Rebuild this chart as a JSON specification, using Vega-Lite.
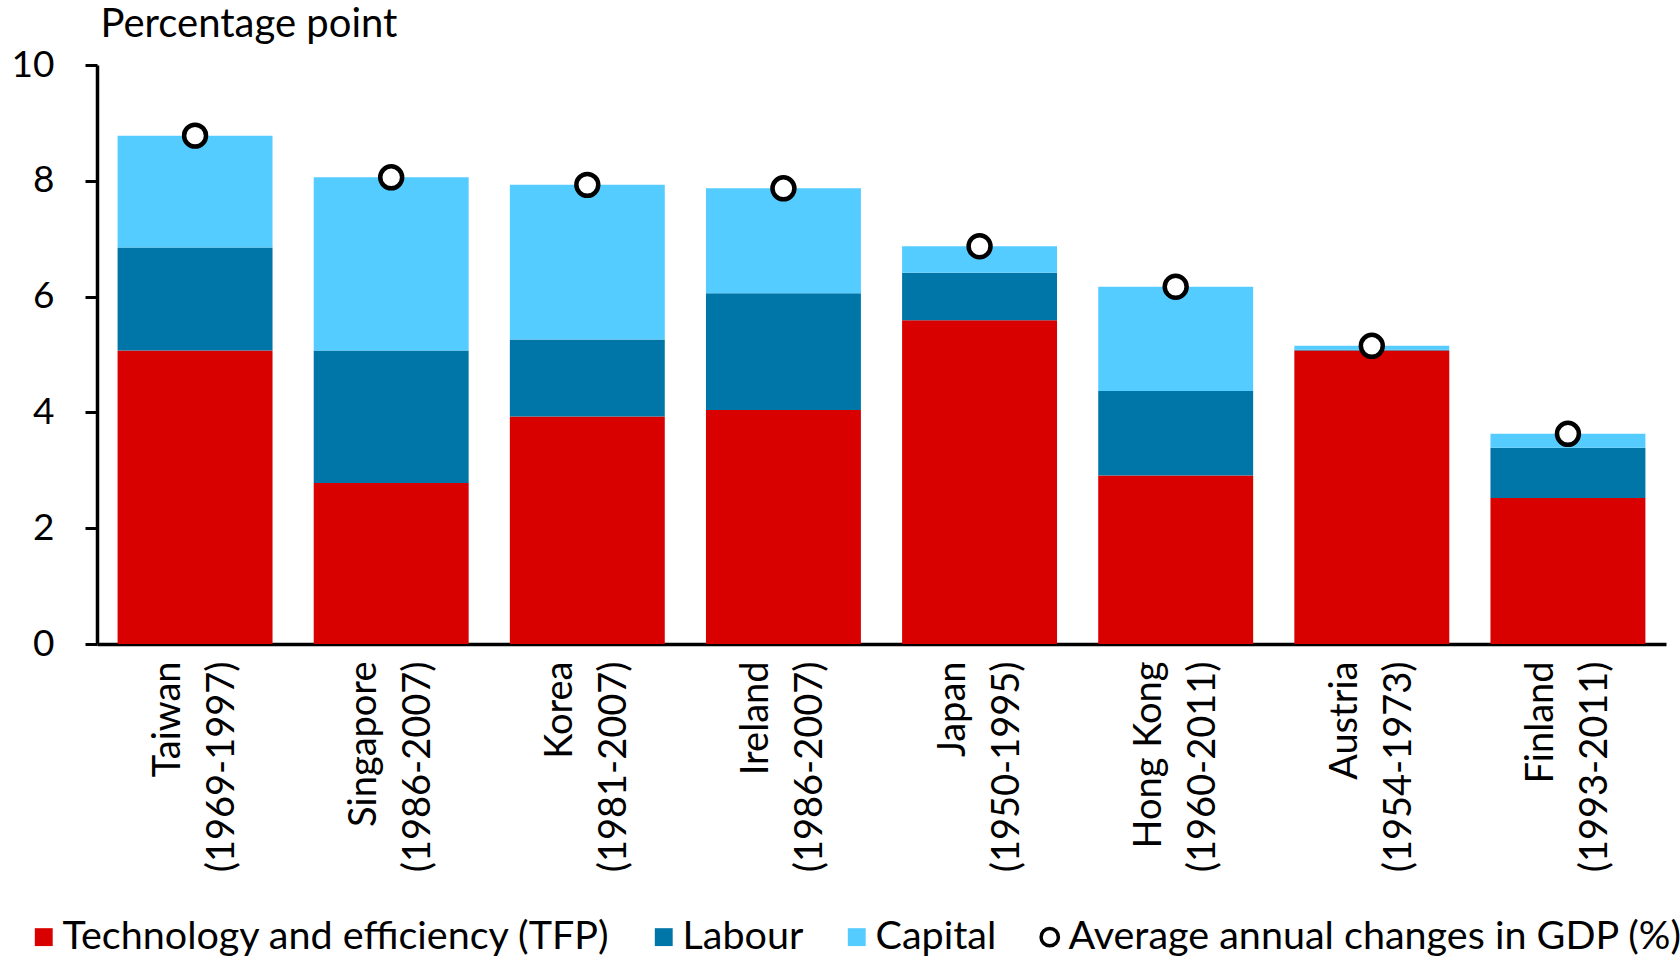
{
  "$schema": "https://vega.github.io/schema/vega-lite/v6.json",
  "width": 1569,
  "height": 579,
  "autosize": {"type": "none"},
  "padding": {"left": 97, "top": 65, "right": 14, "bottom": 315},
  "config": {"font": "Lato", "view": {"stroke": null}, "background": "white"},
  "datasets": {
    "parts": [
      {"country": "Taiwan|(1969-1997)", "series": "Technology and efficiency (TFP)", "ord": 1, "value": 5.07},
      {"country": "Taiwan|(1969-1997)", "series": "Labour", "ord": 2, "value": 1.78},
      {"country": "Taiwan|(1969-1997)", "series": "Capital", "ord": 3, "value": 1.93},
      {"country": "Singapore|(1986-2007)", "series": "Technology and efficiency (TFP)", "ord": 1, "value": 2.78},
      {"country": "Singapore|(1986-2007)", "series": "Labour", "ord": 2, "value": 2.29},
      {"country": "Singapore|(1986-2007)", "series": "Capital", "ord": 3, "value": 2.99},
      {"country": "Korea|(1981-2007)", "series": "Technology and efficiency (TFP)", "ord": 1, "value": 3.93},
      {"country": "Korea|(1981-2007)", "series": "Labour", "ord": 2, "value": 1.33},
      {"country": "Korea|(1981-2007)", "series": "Capital", "ord": 3, "value": 2.67},
      {"country": "Ireland|(1986-2007)", "series": "Technology and efficiency (TFP)", "ord": 1, "value": 4.04},
      {"country": "Ireland|(1986-2007)", "series": "Labour", "ord": 2, "value": 2.02},
      {"country": "Ireland|(1986-2007)", "series": "Capital", "ord": 3, "value": 1.81},
      {"country": "Japan|(1950-1995)", "series": "Technology and efficiency (TFP)", "ord": 1, "value": 5.59},
      {"country": "Japan|(1950-1995)", "series": "Labour", "ord": 2, "value": 0.82},
      {"country": "Japan|(1950-1995)", "series": "Capital", "ord": 3, "value": 0.46},
      {"country": "Hong Kong|(1960-2011)", "series": "Technology and efficiency (TFP)", "ord": 1, "value": 2.91},
      {"country": "Hong Kong|(1960-2011)", "series": "Labour", "ord": 2, "value": 1.46},
      {"country": "Hong Kong|(1960-2011)", "series": "Capital", "ord": 3, "value": 1.80},
      {"country": "Austria|(1954-1973)", "series": "Technology and efficiency (TFP)", "ord": 1, "value": 5.07},
      {"country": "Austria|(1954-1973)", "series": "Labour", "ord": 2, "value": 0.01},
      {"country": "Austria|(1954-1973)", "series": "Capital", "ord": 3, "value": 0.07},
      {"country": "Finland|(1993-2011)", "series": "Technology and efficiency (TFP)", "ord": 1, "value": 2.52},
      {"country": "Finland|(1993-2011)", "series": "Labour", "ord": 2, "value": 0.87},
      {"country": "Finland|(1993-2011)", "series": "Capital", "ord": 3, "value": 0.24}
    ],
    "gdp": [
      {"country": "Taiwan|(1969-1997)", "series": "Average annual changes in GDP (%)", "gdp": 8.78},
      {"country": "Singapore|(1986-2007)", "series": "Average annual changes in GDP (%)", "gdp": 8.06},
      {"country": "Korea|(1981-2007)", "series": "Average annual changes in GDP (%)", "gdp": 7.93},
      {"country": "Ireland|(1986-2007)", "series": "Average annual changes in GDP (%)", "gdp": 7.87},
      {"country": "Japan|(1950-1995)", "series": "Average annual changes in GDP (%)", "gdp": 6.87},
      {"country": "Hong Kong|(1960-2011)", "series": "Average annual changes in GDP (%)", "gdp": 6.17},
      {"country": "Austria|(1954-1973)", "series": "Average annual changes in GDP (%)", "gdp": 5.15},
      {"country": "Finland|(1993-2011)", "series": "Average annual changes in GDP (%)", "gdp": 3.63}
    ]
  },
  "layer": [
    {
      "data": {"name": "parts"},
      "mark": {"type": "bar"},
      "encoding": {
        "x": {
          "field": "country", "type": "nominal", "sort": null,
          "scale": {"paddingInner": 0.21, "paddingOuter": 0.105},
          "axis": {
            "title": null,
            "labelExpr": "split(datum.label, '|')",
            "labelAngle": -90,
            "labelAlign": "right",
            "labelBaseline": "middle",
            "labelFontSize": 38,
            "labelLineHeight": 54,
            "labelOffset": -26,
            "labelColor": "black",
            "labelPadding": 17,
            "ticks": false,
            "domainColor": "black",
            "domainWidth": 3.5,
            "labelLimit": 0
          }
        },
        "y": {
          "field": "value", "type": "quantitative", "stack": "zero",
          "scale": {"domain": [0, 10], "nice": false},
          "axis": {
            "title": "Percentage point",
            "titleAngle": 0,
            "titleAlign": "left",
            "titleBaseline": "middle",
            "titleX": 3,
            "titleY": -41,
            "titleFontSize": 40,
            "titleFontWeight": "normal",
            "titleColor": "black",
            "values": [0, 2, 4, 6, 8, 10],
            "format": "d",
            "labelFontSize": 37,
            "labelColor": "black",
            "labelPadding": 31,
            "tickSize": 12,
            "tickWidth": 3,
            "tickColor": "black",
            "domainColor": "black",
            "domainWidth": 3.5,
            "grid": false
          }
        },
        "color": {
          "field": "series", "type": "nominal",
          "scale": {
            "domain": ["Technology and efficiency (TFP)", "Labour", "Capital", "Average annual changes in GDP (%)"],
            "range": ["#D90000", "#0076A8", "#55CCFF", "white"]
          },
          "legend": {
            "title": null,
            "orient": "none",
            "direction": "horizontal",
            "columns": 4,
            "legendX": -73,
            "legendY": 852,
            "labelFontSize": 39.5,
            "labelColor": "black",
            "labelLimit": 0,
            "labelOffset": -1,
            "columnPadding": 33,
            "symbolSize": 300,
            "symbolType": "square",
            "encode": {
              "symbols": {
                "update": {
                  "shape": {"signal": "datum.value === 'Average annual changes in GDP (%)' ? 'circle' : 'square'"},
                  "stroke": {"signal": "datum.value === 'Average annual changes in GDP (%)' ? 'black' : null"},
                  "strokeWidth": {"signal": "datum.value === 'Average annual changes in GDP (%)' ? 3.5 : 0"},
                  "size": {"signal": "datum.value === 'Average annual changes in GDP (%)' ? 300 : 320"},
                  "opacity": {"value": 1}
                }
              }
            }
          }
        },
        "order": {"field": "ord", "type": "quantitative"}
      }
    },
    {
      "data": {"name": "gdp"},
      "mark": {"type": "point", "filled": true, "stroke": "black", "strokeWidth": 4.5, "size": 480, "opacity": 1},
      "encoding": {
        "x": {"field": "country", "type": "nominal", "sort": null},
        "y": {"field": "gdp", "type": "quantitative"},
        "color": {"field": "series", "type": "nominal"}
      }
    }
  ]
}
